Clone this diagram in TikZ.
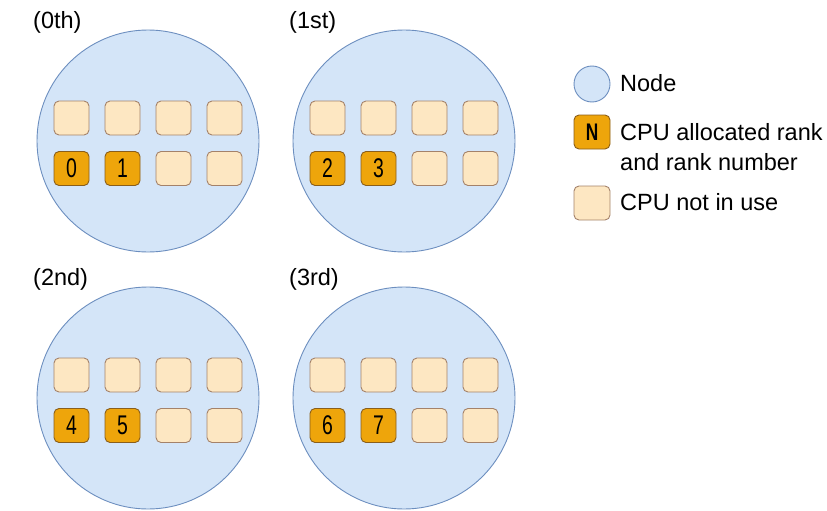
\documentclass[tikz,border=0pt]{standalone}
\usepackage{fontspec}
\setmainfont{Liberation Sans}
\usepackage{graphicx}
\definecolor{nodefill}{HTML}{D4E5F8}
\definecolor{nodedraw}{HTML}{6C8EBF}
\definecolor{freefill}{HTML}{FDE7C2}
\definecolor{freedraw}{HTML}{A4826A}
\definecolor{rankfill}{HTML}{EEA50B}
\definecolor{rankdraw}{HTML}{8A5E1A}
\begin{document}
\begin{tikzpicture}[x=1pt,y=-1pt,
  nodecircle/.style={circle,draw=nodedraw,fill=nodefill,line width=0.9pt,minimum size=222pt,inner sep=0pt},
  legcircle/.style={circle,draw=nodedraw,fill=nodefill,line width=0.9pt,minimum size=36pt,inner sep=0pt},
  cpufree/.style={rectangle,rounded corners=5pt,draw=freedraw,fill=freefill,line width=0.9pt,minimum width=35pt,minimum height=34pt,inner sep=0pt},
  cpurank/.style={rectangle,rounded corners=5pt,draw=rankdraw,fill=rankfill,line width=0.9pt,minimum width=35pt,minimum height=34pt,inner sep=0pt,font=\fontsize{27}{29}\selectfont},
  lbl/.style={anchor=west,inner sep=0pt,font=\fontsize{23.5}{27}\selectfont},
  leg/.style={anchor=west,inner sep=0pt,align=left,font=\fontsize{23.5}{30}\selectfont}]
\useasboundingbox (0,0) rectangle (827,511);
\newcommand{\rk}[1]{\scalebox{0.72}[1]{#1}}
% nodes
\foreach \i/\cx/\cy/\lab/\ra/\rb in {0/148/141/0th/0/1, 1/404/141/1st/2/3, 2/148/398/2nd/4/5, 3/404/398/3rd/6/7}{
  \node[nodecircle] (n\i) at (\cx,\cy) {};
  \node[lbl] (l\i) at (\cx-115,\cy-119) {(\lab)};
  \node[cpufree] (t\i a) at (\cx-76.5,\cy-23) {};
  \node[cpufree] (t\i b) at (\cx-25.5,\cy-23) {};
  \node[cpufree] (t\i c) at (\cx+25.5,\cy-23) {};
  \node[cpufree] (t\i d) at (\cx+76.5,\cy-23) {};
  \node[cpurank] (b\i a) at (\cx-76.5,\cy+27.5) {\rk{\ra}};
  \node[cpurank] (b\i b) at (\cx-25.5,\cy+27.5) {\rk{\rb}};
  \node[cpufree] (b\i c) at (\cx+25.5,\cy+27.5) {};
  \node[cpufree] (b\i d) at (\cx+76.5,\cy+27.5) {};
}
% legend
\node[legcircle] (lc) at (592,84) {};
\node[leg] (lct) at (620,83) {Node};
\node[cpurank,minimum width=36pt,font=\fontsize{24}{26}\selectfont] (lr) at (592,132) {\rk{\textbf{N}}};
\node[leg] (lrt) at (620,147) {CPU allocated rank\\and rank number};
\node[cpufree,minimum width=36pt] (lf) at (592,203) {};
\node[leg] (lft) at (620,202) {CPU not in use};
\end{tikzpicture}
\end{document}
